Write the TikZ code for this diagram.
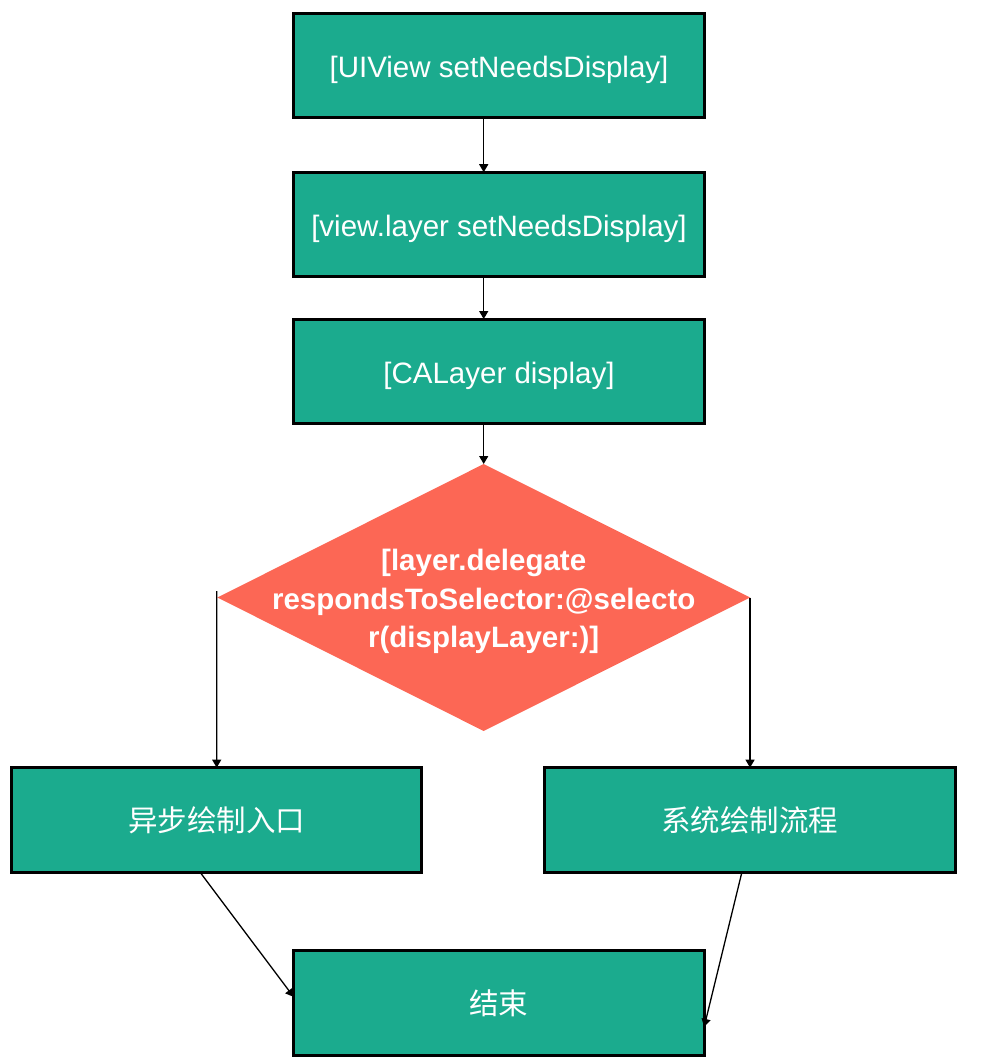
\documentclass[tikz,border=0pt]{standalone}
\usepackage{fontspec}
\setmainfont{Liberation Sans}
\newfontfamily\cjk{Noto Sans CJK SC}
\usetikzlibrary{arrows.meta,shapes.geometric}
\definecolor{boxgreen}{RGB}{27,171,142}
\definecolor{decred}{RGB}{252,103,85}
\begin{document}
\begin{tikzpicture}[x=1pt,y=-1pt,
  procbox/.style={rectangle,draw=black,line width=3pt,fill=boxgreen,
    minimum width=410.5pt,minimum height=104.5pt,inner sep=0pt,outer sep=0pt,
    text height=30pt,text depth=6pt,
    text=white,font=\fontsize{29.5}{36}\selectfont},
  decbox/.style={diamond,fill=decred,minimum width=532.7pt,minimum height=267pt,
    inner sep=0pt,outer sep=0pt},
  dectext/.style={text=white,align=center,inner sep=0pt,
    font=\bfseries\fontsize{29.5}{38.5}\selectfont},
  arr/.style={line width=1.3pt,-{Triangle[width=9pt,length=8pt]}}]
\useasboundingbox (0,0) rectangle (980,1064);
\node[procbox] (b1) at (499,65.75) {[UIView setNeedsDisplay]};
\node[procbox] (b2) at (499,224.5) {[view.layer setNeedsDisplay]};
\node[procbox] (b3) at (499,371.3) {[CALayer display]};
\node[decbox] (dec) at (483.7,597.5) {};
\node[dectext] (dect) at ([yshift=-4pt]dec.center) {[layer.delegate\\respondsToSelector:@selecto\\r(displayLayer:)]};
\node[procbox] (lb) at (216.7,819.9) {\cjk 异步绘制入口};
\node[procbox] (rb) at (749.9,819.9) {\cjk 系统绘制流程};
\node[procbox] (eb) at (498.9,1002.9) {\cjk 结束};
\draw[arr] (b1.south -| dec.north) -- (b2.north -| dec.north);
\draw[arr] (b2.south -| dec.north) -- (b3.north -| dec.north);
\draw[arr] (b3.south -| dec.north) -- (dec.north);
\draw[arr] ([xshift=-0.6pt,yshift=6.5pt]dec.west) -- (lb.north);
\draw[arr] (dec.east) -- (dec.east |- rb.north);
\draw[arr] ([xshift=-16.7pt]lb.south) -- ([yshift=6pt]eb.west);
\draw[arr] ([xshift=-8pt]rb.south) -- ([yshift=-24pt]eb.east);
\end{tikzpicture}
\end{document}
